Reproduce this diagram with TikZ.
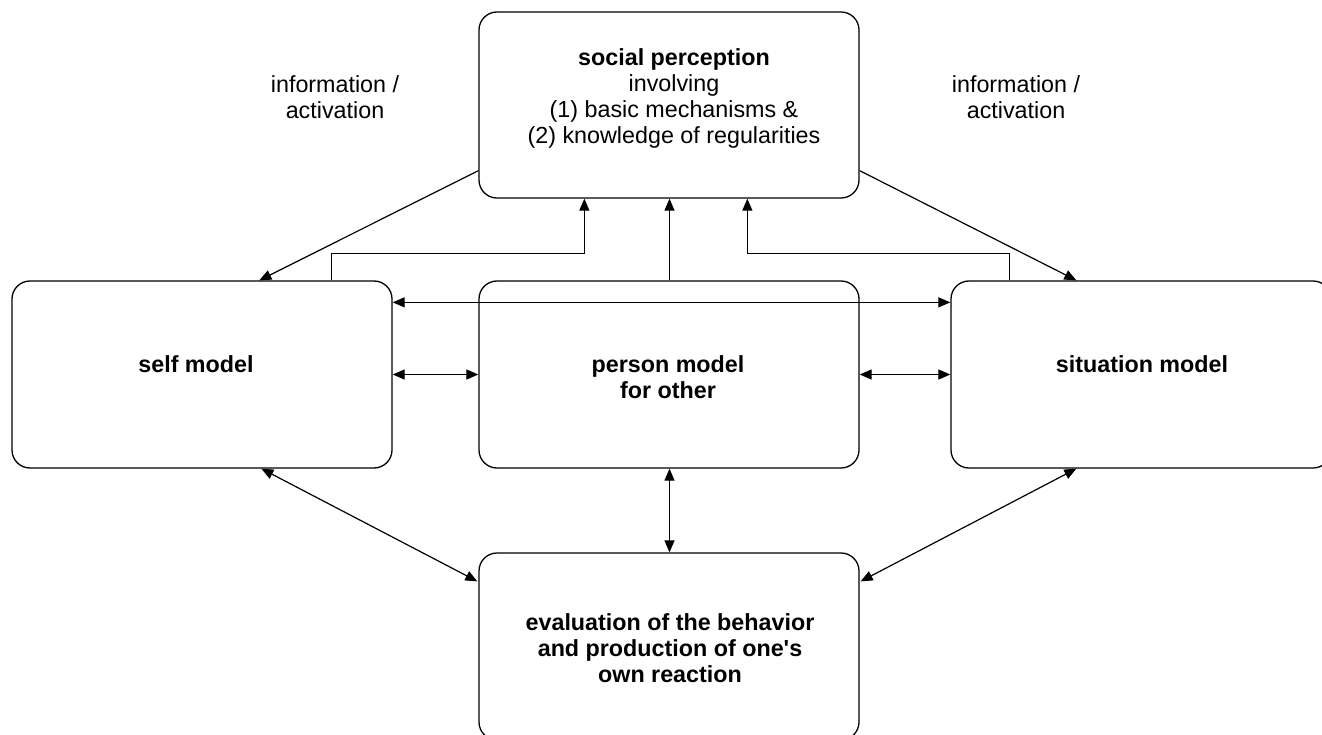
\documentclass[tikz,border=0pt]{standalone}
\usepackage{fontspec}
\setmainfont{Liberation Sans}
\usetikzlibrary{arrows.meta,calc}
\begin{document}
\begin{tikzpicture}[x=1pt,y=-1pt,
  box/.style={draw, line width=1.3pt, rounded corners=18pt, minimum width=380pt, minimum height=187pt, inner sep=0pt},
  lbl/.style={align=center, inner sep=0pt, font=\fontsize{23.3}{26}\selectfont},
  arr/.style={line width=1.2pt, -{Triangle[length=12pt,width=10pt]}},
  darr/.style={line width=1.2pt, {Triangle[length=12pt,width=10pt]}-{Triangle[length=12pt,width=10pt]}}
]
\useasboundingbox (0,0) rectangle (1322,735);
\clip (0,0) rectangle (1322,735);
\node[box, minimum height=186pt] (soc) at (669,105) {};
\node[box] (self) at (202,374.5) {};
\node[box] (pers) at (669,374.5) {};
\node[box] (sit) at (1141,374.5) {};
\node[box] (eval) at (669,646.5) {};

\node[lbl] (tsoc) at (674,98.5) {\textbf{social perception}\\involving\\(1) basic mechanisms \&\\(2) knowledge of regularities};
\node[lbl] (tself) at (196,364.5) {\textbf{self model}};
\node[lbl] (tpers) at (668,377.5) {\textbf{person model}\\\textbf{for other}};
\node[lbl] (tsit) at (1142,364.5) {\textbf{situation model}};
\node[lbl] (teval) at (670,648.5) {\textbf{evaluation of the behavior}\\\textbf{and production of one\textquotesingle s}\\\textbf{own reaction}};
\node[lbl] (ia1) at (335,97.5) {information /\\activation};
\node[lbl] (ia2) at (1016,97.5) {information /\\activation};

\draw[arr] ($(soc.south west)+(0,-28)$) -- ($(self.north west)+(248,0)$);
\draw[arr] ($(soc.south east)+(0,-28)$) -- ($(sit.north west)+(126,0)$);
\draw[arr] ($(self.north west)+(320,0)$) -- ++(0,-27) -| ($(soc.south west)+(106,0)$);
\draw[arr] ($(pers.north)+(0.5,0)$) -- ($(soc.south)+(0.5,0)$);
\draw[arr] ($(sit.north west)+(59,0)$) -- ++(0,-27) -| ($(soc.south west)+(269,0)$);
\draw[darr] ($(self.north east)+(0,22)$) -- ($(sit.north west)+(0,22)$);
\draw[darr] (self.east) -- (pers.west);
\draw[darr] (pers.east) -- (sit.west);
\draw[darr] ($(self.south west)+(250,0)$) -- ($(eval.north west)+(-1,29)$);
\draw[darr] ($(pers.south)+(0.5,0)$) -- ($(eval.north)+(0.5,0)$);
\draw[darr] ($(sit.south west)+(126,0)$) -- ($(eval.north east)+(1,29)$);
\end{tikzpicture}
\end{document}
